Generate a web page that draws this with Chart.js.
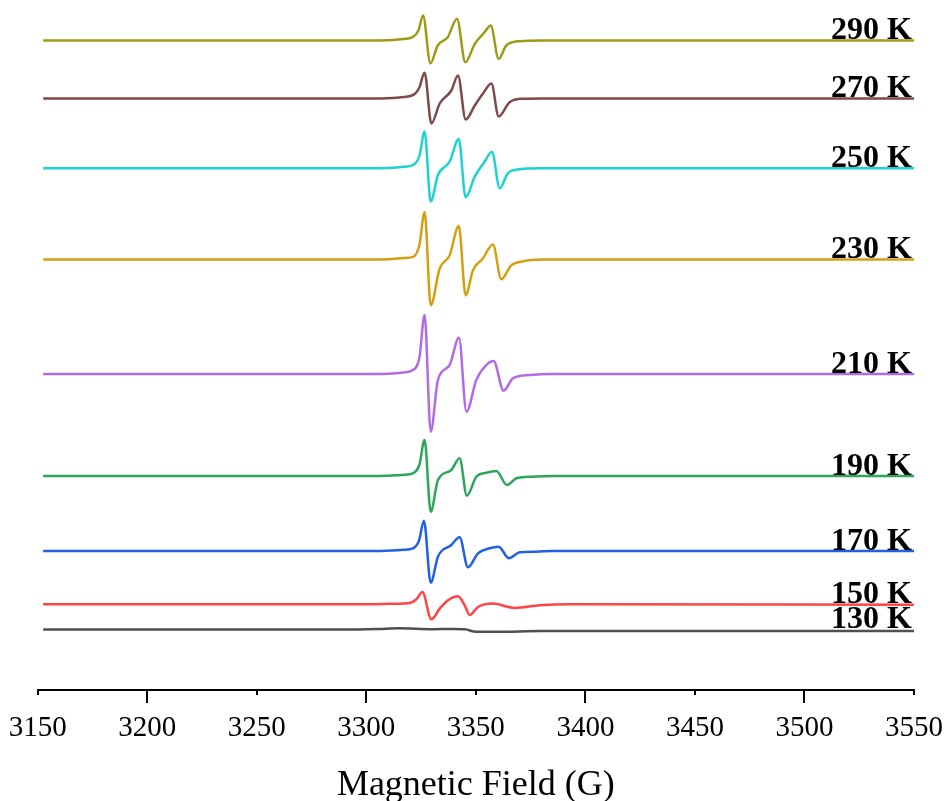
<!DOCTYPE html>
<html>
<head>
<meta charset="utf-8">
<script src="https://cdn.jsdelivr.net/npm/chart.js@4/dist/chart.umd.min.js"></script>
<style>
  html, body { margin: 0; padding: 0; background: #ffffff; }
  #wrap { width: 947px; height: 801px; position: relative; }
</style>
</head>
<body>
<div id="wrap"><canvas id="c"></canvas></div>
<script>
// ---- Data (magnetic field in G, intensity in arbitrary units) ----
const temperatures = ['290 K', '270 K', '250 K', '230 K', '210 K', '190 K', '170 K', '150 K', '130 K'];
const stackOffsets = [649.5, 591.5, 521.7, 430.5, 316, 214, 139, 85.7, 60.5];
const xTicks = [3150, 3200, 3250, 3300, 3350, 3400, 3450, 3500, 3550];

const field290 = [3152.5, 3300, 3312, 3317, 3321.1, 3323.8, 3325.9, 3329.25, 3332.6, 3337.15, 3341.4, 3345.2, 3349.5, 3354.0, 3356.8, 3360.4, 3363.9, 3370.0, 3380, 3550];
const int290   = [0, 0, 0.5, 1.5, 3.3, 10, 25, -22.7, -5, 3.3, 21.7, -21.7, -3.3, 8.3, 15, -18.3, -5, -0.7, 0, 0];

const field270 = [3152.5, 3300, 3312, 3317, 3322.1, 3324.2, 3326.6, 3329.7, 3333.5, 3338.8, 3341.85, 3345.35, 3349.5, 3353.2, 3357.1, 3360.4, 3365.4, 3371.5, 3380, 3550];
const int270   = [0, 0, 0.5, 1.5, 4.5, 11, 25.8, -25, -5, 8, 23, -21, -7, 4.7, 15, -18, -3.7, -0.3, 0, 0];

const field250 = [3152.5, 3300, 3312, 3317, 3321.3, 3324.2, 3326.6, 3329.4, 3332.7, 3338.05, 3342.2, 3345.35, 3349.5, 3354.0, 3357.35, 3360.9, 3364.6, 3370.0, 3380, 3550];
const int250   = [0, 0, 0.5, 1.5, 3.3, 12, 36.6, -33.4, -6.7, 6.6, 29.3, -29, -8.4, 6.6, 16.6, -20, -5, -1, 0, 0];

const field230 = [3152.5, 3300, 3312, 3317, 3321.3, 3324.2, 3326.6, 3329.4, 3333.5, 3338.05, 3342.2, 3345.35, 3348.7, 3353.2, 3357.8, 3361.6, 3366.2, 3371.5, 3380, 3550];
const int230   = [0, 0, 0.5, 1.5, 2.6, 14, 47.6, -45.7, -9, 4.3, 33.6, -35.7, -10.7, 1, 15, -19.7, -5.7, -1.7, 0, 0];

const field210 = [3152.5, 3300, 3312, 3317, 3321.3, 3324.2, 3326.6, 3329.4, 3332.7, 3338.05, 3342.3, 3345.7, 3350.2, 3354.8, 3358.1, 3362.7, 3366.9, 3374.5, 3385, 3550];
const int210   = [0, 0, 0.5, 1.5, 4, 16, 59, -57.7, -6, 9, 36.3, -37.7, -6, 9, 13, -16.7, -4.3, -1, 0, 0];

const field190 = [3152.5, 3300, 3312, 3317, 3321.3, 3324.2, 3326.6, 3329.4, 3332.7, 3338.8, 3342.6, 3345.9, 3350.2, 3354.8, 3359.35, 3364.2, 3368.5, 3375.9, 3385, 3550];
const int190   = [0, 0, 0.5, 1.2, 2.7, 11, 36, -35.7, -4, 6, 17.7, -19.7, -0.7, 3.3, 5, -9, -2.3, -0.7, 0, 0];

const field170 = [3152.5, 3300, 3312, 3317, 3321.3, 3324.0, 3326.3, 3329.4, 3332.7, 3338.8, 3342.6, 3346.4, 3351.0, 3356.3, 3360.4, 3365.1, 3370.0, 3377.6, 3385, 3550];
const int170   = [0, 0, 0.5, 1.2, 2.7, 10, 30.3, -31.7, -5.7, 6, 13.7, -16.3, -2.3, 2.7, 4.3, -7.3, -1.3, -0.7, 0, 0];

const field150 = [3152.5, 3300, 3312, 3319.8, 3322.9, 3325.6, 3329.7, 3333.5, 3337.3, 3341.85, 3344.9, 3347.2, 3351.0, 3357.8, 3367.7, 3379.1, 3392.8, 3550];
const int150   = [0, 0, 0.5, 1.3, 5, 12.3, -15, -4.3, 4, 8, -1, -10.7, -2.7, 0.7, -3.7, -1, 0, -0.5];

const field130 = [3152.5, 3290, 3305, 3315, 3330, 3340, 3345, 3350, 3360, 3380, 3420, 3550];
const int130   = [0, 0, 0.5, 1.2, 0.3, 0.5, 0.2, -2.3, -2.3, -1.5, -1.5, -1.5];

const fields = [field290, field270, field250, field230, field210, field190, field170, field150, field130];
const intensities = [int290, int270, int250, int230, int210, int190, int170, int150, int130];
const colors = ['#9c9c16', '#7e4b4b', '#1ed2d2', '#d4a012', '#b26be6', '#2ba65a', '#1f60e4', '#ff4444', '#505050'];

// ---- Build datasets ----
const datasets = temperatures.map((t, i) => ({
  label: t,
  data: fields[i].map((f, k) => ({ x: f, y: stackOffsets[i] + intensities[i][k] })),
  borderColor: colors[i],
  borderWidth: 2.5,
  pointRadius: 0,
  fill: false,
  cubicInterpolationMode: 'monotone'
}));

// Custom tick marks: long at multiples of 100, short otherwise
const tickMarks = {
  id: 'tickMarks',
  afterDraw(chart) {
    const xs = chart.scales.x;
    const ctx = chart.ctx;
    ctx.save();
    ctx.strokeStyle = '#000';
    ctx.lineWidth = 2;
    xTicks.forEach(v => {
      const px = Math.round(xs.getPixelForValue(v));
      const len = (v % 100 === 0) ? 13 : 5;
      ctx.beginPath();
      ctx.moveTo(px, xs.top);
      ctx.lineTo(px, xs.top + len);
      ctx.stroke();
    });
    ctx.restore();
  }
};

// Series labels at the right end of each trace
const seriesLabels = {
  id: 'seriesLabels',
  afterDatasetsDraw(chart) {
    const xs = chart.scales.x, ys = chart.scales.y;
    const ctx = chart.ctx;
    ctx.save();
    ctx.font = 'bold 32px "Liberation Serif", "Times New Roman", serif';
    ctx.fillStyle = '#000';
    ctx.textAlign = 'right';
    ctx.textBaseline = 'alphabetic';
    temperatures.forEach((t, i) => {
      const x = xs.getPixelForValue(xTicks[xTicks.length - 1]) - 2;
      const y = ys.getPixelForValue(stackOffsets[i]) - 1.5;
      ctx.fillText(t, x, y);
    });
    ctx.restore();
  }
};

new Chart(document.getElementById('c'), {
  type: 'line',
  data: { datasets },
  options: {
    responsive: true,
    maintainAspectRatio: false,
    animation: false,
    events: [],
    layout: { padding: { left: 37.7, right: 33, top: 0, bottom: 0 } },
    plugins: { legend: { display: false }, tooltip: { enabled: false } },
    scales: {
      x: {
        type: 'linear',
        min: 3150,
        max: 3550,
        afterBuildTicks: (scale) => { scale.ticks = xTicks.map(v => ({ value: v })); },
        grid: { display: true, drawOnChartArea: false, drawTicks: true, tickLength: 24, color: 'rgba(0,0,0,0)' },
        border: { display: true, color: '#000', width: 2 },
        ticks: {
          color: '#000',
          padding: 0,
          maxRotation: 0,
          autoSkip: false,
          callback: (v) => String(v),
          font: { family: '"Liberation Serif", "Times New Roman", serif', size: 29, lineHeight: 1 }
        },
        title: {
          display: true,
          text: 'Magnetic Field (G)',
          color: '#000',
          padding: { top: 27.4, bottom: 0 },
          font: { family: '"Liberation Serif", "Times New Roman", serif', size: 36, lineHeight: 0.85 }
        }
      },
      y: {
        display: false,
        min: 0,
        max: 690
      }
    }
  },
  plugins: [tickMarks, seriesLabels]
});
</script>
</body>
</html>
